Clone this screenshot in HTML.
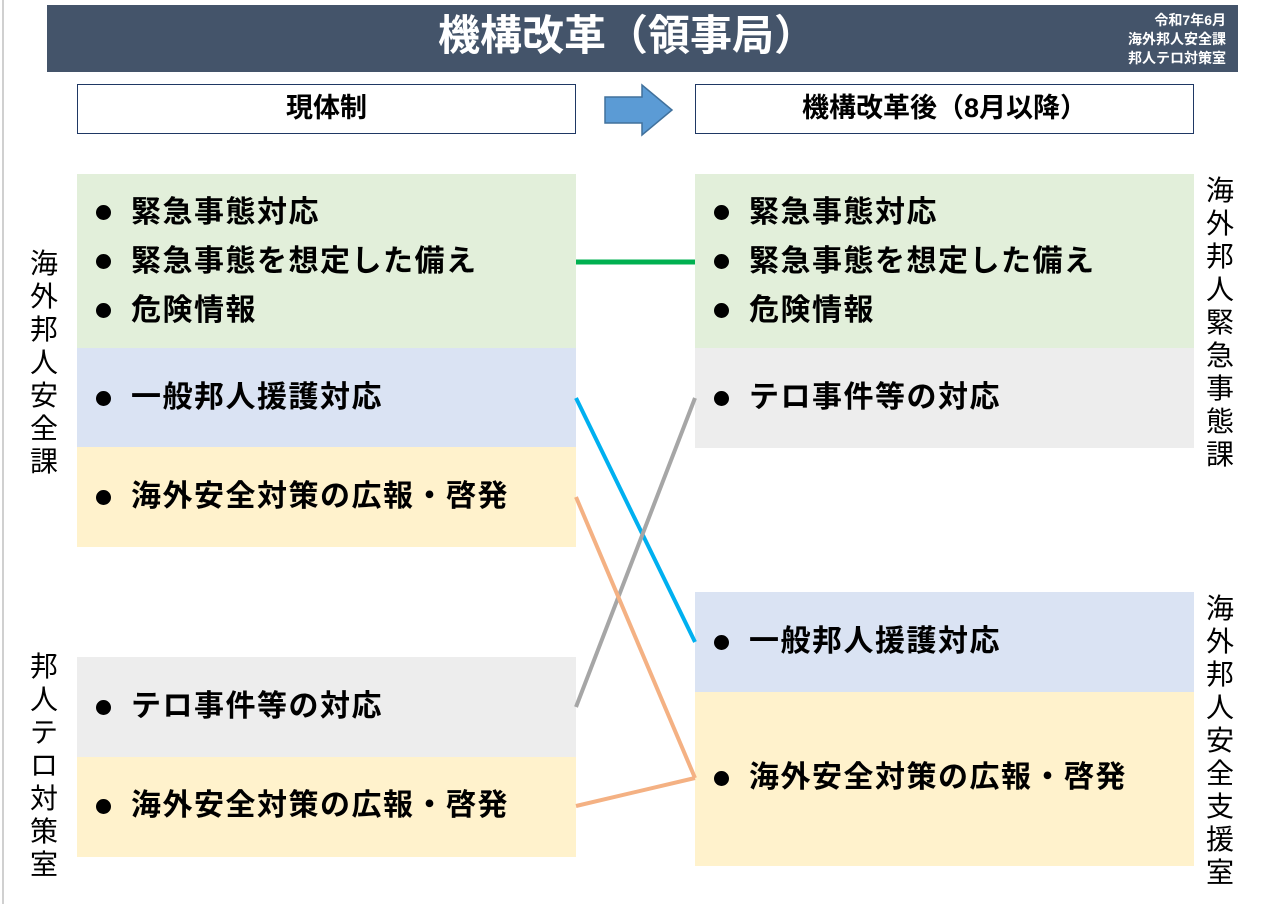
<!DOCTYPE html>
<html><head><meta charset="utf-8"><style>
*{margin:0;padding:0;box-sizing:border-box}
body{width:1264px;height:904px;background:#fff;position:relative;overflow:hidden;font-family:"Liberation Sans","Noto Sans CJK JP",sans-serif;color:#000}
.a{position:absolute}
.hdr{left:47px;top:5px;width:1191px;height:67px;background:#44546a}
.title{left:0;width:1264px;top:8px;text-align:center;font-size:42px;font-weight:bold;color:#fff;line-height:56px;padding-right:10px}
.sub{right:38px;top:11px;text-align:right;font-size:14px;font-weight:bold;color:#fff;line-height:19px}
.hb{border:1.5px solid #1f3864;height:50px;font-size:27px;font-weight:bold;text-align:center;line-height:46px}
.box{width:499px}
.it{font-size:30px;font-weight:bold;line-height:48px;padding-left:54px;white-space:nowrap;letter-spacing:1.5px;position:relative}
.g .it{line-height:49px}
.it:before{content:"";position:absolute;left:19px;top:17px;width:15px;height:15px;border-radius:50%;background:#000}
.v{font-size:28px;line-height:33px;width:34px;text-align:center}
</style></head><body>
<div class="a" style="left:2px;top:0;width:2px;height:904px;background:#d0d0d0"></div>
<div class="a hdr"></div>
<div class="a title">機構改革（領事局）</div>
<div class="a sub">令和7年6月<br>海外邦人安全課<br>邦人テロ対策室</div>
<div class="a hb" style="left:77px;top:84px;width:499px">現体制</div>
<div class="a hb" style="left:695px;top:84px;width:499px">機構改革後（8月以降）</div>
<svg class="a" style="left:600px;top:82px" width="76" height="56"><polygon points="5,15 42,15 42,3 72,28 42,53 42,41 5,41" fill="#5b9bd5" stroke="#41719c" stroke-width="1.5"/></svg>

<div class="a box g" style="left:77px;top:174px;height:174px;background:#e2efda;padding-top:14px">
<div class="it">緊急事態対応</div><div class="it">緊急事態を想定した備え</div><div class="it">危険情報</div></div>
<div class="a box" style="left:77px;top:348px;height:99px;background:#dae3f3;padding-top:26px"><div class="it">一般邦人援護対応</div></div>
<div class="a box" style="left:77px;top:447px;height:100px;background:#fff2cc;padding-top:26px"><div class="it">海外安全対策の広報・啓発</div></div>
<div class="a box" style="left:77px;top:657px;height:100px;background:#ededed;padding-top:26px"><div class="it">テロ事件等の対応</div></div>
<div class="a box" style="left:77px;top:757px;height:100px;background:#fff2cc;padding-top:25px"><div class="it">海外安全対策の広報・啓発</div></div>

<div class="a box g" style="left:695px;top:174px;height:174px;background:#e2efda;padding-top:14px">
<div class="it">緊急事態対応</div><div class="it">緊急事態を想定した備え</div><div class="it">危険情報</div></div>
<div class="a box" style="left:695px;top:348px;height:100px;background:#ededed;padding-top:26px"><div class="it">テロ事件等の対応</div></div>
<div class="a box" style="left:695px;top:592px;height:100px;background:#dae3f3;padding-top:26px"><div class="it">一般邦人援護対応</div></div>
<div class="a box" style="left:695px;top:692px;height:174px;background:#fff2cc;padding-top:62px"><div class="it">海外安全対策の広報・啓発</div></div>

<div class="a v" style="left:27px;top:247px">海<br>外<br>邦<br>人<br>安<br>全<br>課</div>
<div class="a v" style="left:27px;top:650px">邦<br>人<br>テ<br>ロ<br>対<br>策<br>室</div>
<div class="a v" style="left:1203px;top:174px">海<br>外<br>邦<br>人<br>緊<br>急<br>事<br>態<br>課</div>
<div class="a v" style="left:1203px;top:592px">海<br>外<br>邦<br>人<br>安<br>全<br>支<br>援<br>室</div>

<svg class="a" style="left:0;top:0" width="1264" height="904">
<line x1="576" y1="262" x2="695" y2="262" stroke="#00b050" stroke-width="5"/>
<line x1="576" y1="398" x2="695" y2="642" stroke="#00b0f0" stroke-width="4"/>
<line x1="576" y1="707" x2="695" y2="398" stroke="#a6a6a6" stroke-width="4"/>
<line x1="576" y1="497" x2="695" y2="778" stroke="#f4b183" stroke-width="4"/>
<line x1="576" y1="806" x2="695" y2="778" stroke="#f4b183" stroke-width="4"/>
</svg>
</body></html>
